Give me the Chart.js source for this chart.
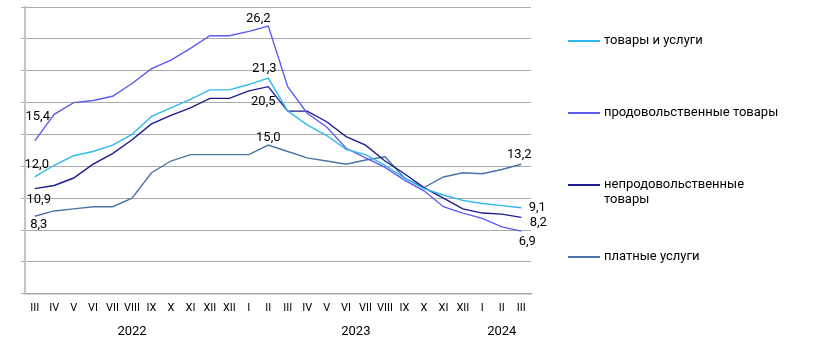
<!DOCTYPE html>
<html lang="ru">
<head>
<meta charset="utf-8">
<title>Инфляция</title>
<script src="https://cdn.jsdelivr.net/npm/chart.js@4.4.1/dist/chart.umd.min.js"></script>
<style>
    html, body { margin: 0; padding: 0; background: #fff; }
    #chart-wrap { position: relative; width: 814px; height: 352px; }
</style>
</head>
<body>
<div id="chart-wrap"><canvas id="inflation-chart" width="814" height="352"></canvas></div>
<script>
// --- Data ---
const monthLabels = ['III', 'IV', 'V', 'VI', 'VII', 'VIII', 'IX', 'X', 'XI', 'XII', 'XII', 'I', 'II',
    'III', 'IV', 'V', 'VI', 'VII', 'VIII', 'IX', 'X', 'XI', 'XII', 'I', 'II', 'III'];
const yearLabels = ['2022', '2023', '2024'];
const yearSpans = [11, 12, 3]; // how many months sit under each year

const seriesNames = ['товары и услуги', 'продовольственные товары', 'непродовольственные товары', 'платные услуги'];
const goodsAndServices = [12.0, 13.1, 14.0, 14.4, 15.0, 16.0, 17.7, 18.5, 19.3, 20.2, 20.2, 20.7, 21.3,
    18.2, 16.9, 15.9, 14.6, 14.1, 13.1, 11.9, 10.9, 10.3, 9.8, 9.5, 9.3, 9.1];
const foodGoods = [15.4, 17.9, 19.0, 19.2, 19.6, 20.8, 22.2, 23.0, 24.1, 25.3, 25.3, 25.7, 26.2,
    20.5, 18.0, 16.7, 14.7, 13.8, 12.9, 11.7, 10.7, 9.2, 8.6, 8.1, 7.3, 6.9];
const nonFoodGoods = [10.9, 11.2, 11.9, 13.2, 14.2, 15.5, 17.0, 17.8, 18.5, 19.4, 19.4, 20.1, 20.5,
    18.2, 18.2, 17.2, 15.8, 15.0, 13.5, 12.3, 11.0, 10.0, 9.0, 8.6, 8.5, 8.2];
const paidServices = [8.3, 8.8, 9.0, 9.2, 9.2, 10.0, 12.4, 13.5, 14.1, 14.1, 14.1, 14.1, 15.0,
    14.4, 13.8, 13.5, 13.2, 13.6, 13.9, 11.9, 11.0, 12.0, 12.4, 12.3, 12.7, 13.2];

const labelledPoints = [0, 12, 25];
const yMin = 1;
const yMax = 28;
const yStep = 3;

document.addEventListener('DOMContentLoaded', function () {
    const FONT = 'Roboto, "Liberation Sans", sans-serif';
    const seriesColors = ['#2fb9ee', '#5c5cf5', '#1c1c8e', '#4a73a6'];

    // text offsets of the value labels (dx, dy from the point), per series and labelled point
    const labelOffsets = [
        [[2, -12], [-4, -9], [16, 0]],
        [[3, -24], [-10, -7], [6, 11]],
        [[4, 11], [-5, 15], [17, 5]],
        [[4, 8], [0, -7], [-2, -9]],
    ];

    const formatValue = (num) => Number(num).toFixed(1).replace('.', ',');

    // --- Plugins ---
    const valueLabelsPlugin = {
        id: 'valueLabels',
        afterDatasetsDraw(chart) {
            const ctx = chart.ctx;
            ctx.save();
            ctx.font = `13px ${FONT}`;
            ctx.fillStyle = '#000';
            ctx.textAlign = 'center';
            ctx.textBaseline = 'middle';
            chart.data.datasets.forEach((ds, di) => {
                const meta = chart.getDatasetMeta(di);
                labelledPoints.forEach((idx, k) => {
                    const pt = meta.data[idx];
                    const [dx, dy] = labelOffsets[di][k];
                    ctx.fillText(formatValue(ds.data[idx]), pt.x + dx, pt.y + dy);
                });
            });
            ctx.restore();
        }
    };

    const yearRowPlugin = {
        id: 'yearRow',
        afterDraw(chart) {
            const ctx = chart.ctx;
            const xScale = chart.scales.x;
            ctx.save();
            ctx.font = `13px ${FONT}`;
            ctx.fillStyle = '#000';
            ctx.textAlign = 'center';
            ctx.textBaseline = 'middle';
            let start = 0;
            yearLabels.forEach((year, i) => {
                const end = start + yearSpans[i] - 1;
                const cx = (xScale.getPixelForValue(start) + xScale.getPixelForValue(end)) / 2;
                ctx.fillText(year, cx, xScale.top + 38);
                start = end + 1;
            });
            ctx.restore();
        }
    };

    const sideLegendPlugin = {
        id: 'sideLegend',
        afterDraw(chart) {
            const ctx = chart.ctx;
            const left = chart.chartArea.right + 37;
            const maxTextWidth = 178;
            ctx.save();
            ctx.font = `13px ${FONT}`;
            ctx.textAlign = 'left';
            ctx.textBaseline = 'middle';
            chart.data.datasets.forEach((ds, i) => {
                const y = 41 + i * 72;
                ctx.strokeStyle = ds.borderColor;
                ctx.lineWidth = 2;
                ctx.beginPath();
                ctx.moveTo(left, y);
                ctx.lineTo(left + 32, y);
                ctx.stroke();

                // wrap long names onto a second line
                const lines = [];
                let current = '';
                ds.label.split(' ').forEach(word => {
                    const attempt = current ? current + ' ' + word : word;
                    if (current && ctx.measureText(attempt).width > maxTextWidth) {
                        lines.push(current);
                        current = word;
                    } else {
                        current = attempt;
                    }
                });
                lines.push(current);
                ctx.fillStyle = '#000';
                lines.forEach((line, li) => ctx.fillText(line, left + 36, y + li * 15));
            });
            ctx.restore();
        }
    };

    // --- Chart ---
    const seriesData = [goodsAndServices, foodGoods, nonFoodGoods, paidServices];
    const ctx = document.getElementById('inflation-chart').getContext('2d');

    new Chart(ctx, {
        type: 'line',
        data: {
            labels: monthLabels,
            datasets: seriesData.map((values, i) => ({
                label: seriesNames[i],
                data: values,
                borderColor: seriesColors[i],
                backgroundColor: seriesColors[i],
                borderWidth: 1.4,
                pointRadius: 0,
                tension: 0,
                fill: false,
            })),
        },
        options: {
            responsive: false,
            animation: false,
            devicePixelRatio: 1,
            layout: { padding: { left: 21, right: 283, top: 7, bottom: 29 } },
            plugins: {
                legend: { display: false },
                tooltip: { enabled: false },
            },
            scales: {
                x: {
                    offset: true,
                    grid: { display: false, drawTicks: false },
                    border: { color: '#a6a6a6', width: 1.5 },
                    ticks: {
                        autoSkip: false,
                        maxRotation: 0,
                        minRotation: 0,
                        padding: 8,
                        color: '#000',
                        font: { family: FONT, size: 11 },
                    },
                },
                y: {
                    min: yMin,
                    max: yMax,
                    ticks: { stepSize: yStep, display: false },
                    grid: { color: '#ababab', lineWidth: 1, drawTicks: true, tickLength: 4 },
                    border: { color: '#c4c4c4', width: 2 },
                },
            },
        },
        plugins: [valueLabelsPlugin, yearRowPlugin, sideLegendPlugin],
    });
});
</script>
</body>
</html>
